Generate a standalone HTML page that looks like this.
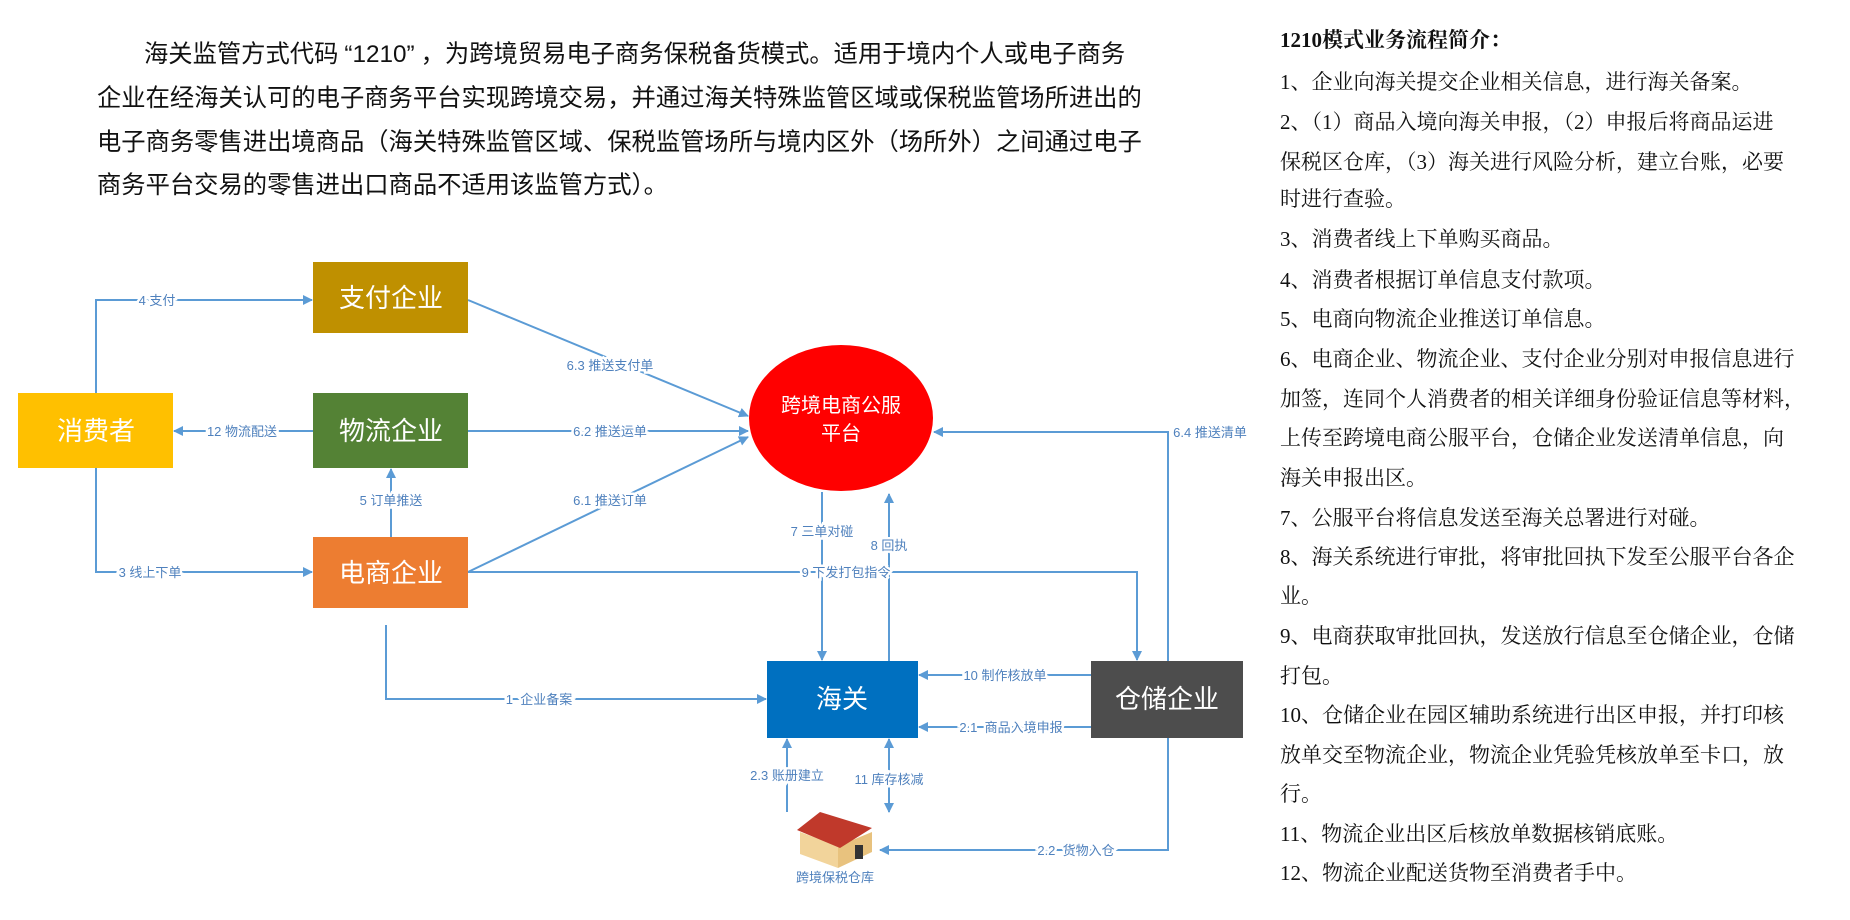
<!DOCTYPE html>
<html><head><meta charset="utf-8"><style>
body{margin:0;width:1850px;height:920px;background:#fff;position:relative;overflow:hidden}
.p{position:absolute;left:97px;font-family:"Liberation Sans","Noto Sans CJK SC",sans-serif;font-size:24.3px;color:#111;white-space:nowrap;line-height:44px}
.r{position:absolute;left:1280px;font-family:"Liberation Serif","Noto Serif CJK SC",serif;font-size:21px;color:#111;white-space:nowrap}
</style></head><body>
<div class="p" style="top:33px"><span style="padding-left:47px"></span>海关监管方式代码<span style="padding:0 6px">“1210”</span>，为跨境贸易电子商务保税备货模式。适用于境内个人或电子商务</div>
<div class="p" style="top:77px">企业在经海关认可的电子商务平台实现跨境交易，并通过海关特殊监管区域或保税监管场所进出的</div>
<div class="p" style="top:121px">电子商务零售进出境商品（海关特殊监管区域、保税监管场所与境内区外（场所外）之间通过电子</div>
<div class="p" style="top:164px">商务平台交易的零售进出口商品不适用该监管方式）。</div>
<div class="r" style="top:24px;font-weight:bold">1210模式业务流程简介：</div>
<div class="r" style="top:66px">1、企业向海关提交企业相关信息，进行海关备案。</div>
<div class="r" style="top:106px">2、（1）商品入境向海关申报，（2）申报后将商品运进</div>
<div class="r" style="top:146px">保税区仓库，（3）海关进行风险分析，建立台账，必要</div>
<div class="r" style="top:183px">时进行查验。</div>
<div class="r" style="top:223px">3、消费者线上下单购买商品。</div>
<div class="r" style="top:264px">4、消费者根据订单信息支付款项。</div>
<div class="r" style="top:303px">5、电商向物流企业推送订单信息。</div>
<div class="r" style="top:343px">6、电商企业、物流企业、支付企业分别对申报信息进行</div>
<div class="r" style="top:383px">加签，连同个人消费者的相关详细身份验证信息等材料，</div>
<div class="r" style="top:422px">上传至跨境电商公服平台，仓储企业发送清单信息，向</div>
<div class="r" style="top:462px">海关申报出区。</div>
<div class="r" style="top:502px">7、公服平台将信息发送至海关总署进行对碰。</div>
<div class="r" style="top:541px">8、海关系统进行审批，将审批回执下发至公服平台各企</div>
<div class="r" style="top:580px">业。</div>
<div class="r" style="top:620px">9、电商获取审批回执，发送放行信息至仓储企业，仓储</div>
<div class="r" style="top:660px">打包。</div>
<div class="r" style="top:699px">10、仓储企业在园区辅助系统进行出区申报，并打印核</div>
<div class="r" style="top:739px">放单交至物流企业，物流企业凭验凭核放单至卡口，放</div>
<div class="r" style="top:778px">行。</div>
<div class="r" style="top:818px">11、物流企业出区后核放单数据核销底账。</div>
<div class="r" style="top:857px">12、物流企业配送货物至消费者手中。</div>

<svg width="1850" height="920" style="position:absolute;left:0;top:0" font-family="Liberation Sans,Noto Sans CJK SC,sans-serif">
<defs><marker id="a" markerWidth="10" markerHeight="10" refX="9" refY="5" orient="auto" markerUnits="userSpaceOnUse"><path d="M0,0L10,5L0,10z" fill="#5B9BD5"/></marker>
<marker id="b" markerWidth="10" markerHeight="10" refX="1" refY="5" orient="auto" markerUnits="userSpaceOnUse"><path d="M10,0L0,5L10,10z" fill="#5B9BD5"/></marker></defs>
<g stroke="#5B9BD5" stroke-width="2" fill="none" marker-end="url(#a)">
<polyline points="96,393 96,300 312,300"/>
<polyline points="96,468 96,572 312,572"/>
<polyline points="313,431 174,431"/>
<polyline points="391,537 391,469"/>
<polyline points="468,300 748,416"/>
<polyline points="468,431 748,431"/>
<polyline points="468,572 748,437"/>
<polyline points="386,625 386,699 766,699"/>
<polyline points="822,492 822,660"/>
<polyline points="889,661 889,494"/>
<polyline points="468,572 1137,572 1137,660"/>
<polyline points="1168,661 1168,432 934,432"/>
<polyline points="1091,675 919,675"/>
<polyline points="1091,727 919,727"/>
<polyline points="1168,738 1168,850 880,850"/>
<polyline points="787,812 787,739"/>
<polyline points="889,812 889,739" marker-start="url(#b)"/>
</g>
<rect x="18" y="393" width="155" height="75" fill="#FFC000"/>
<rect x="313" y="262" width="155" height="71" fill="#BF9000"/>
<rect x="313" y="393" width="155" height="75" fill="#548235"/>
<rect x="313" y="537" width="155" height="71" fill="#ED7D31"/>
<rect x="767" y="661" width="151" height="77" fill="#0070C0"/>
<rect x="1091" y="661" width="152" height="77" fill="#4D4D4D"/>
<ellipse cx="841" cy="418" rx="92" ry="73" fill="#FF0000"/>
<g fill="#fff" font-size="26" text-anchor="middle">
<text x="96" y="440">消费者</text>
<text x="391" y="307">支付企业</text>
<text x="391" y="440">物流企业</text>
<text x="391" y="582">电商企业</text>
<text x="842" y="708">海关</text>
<text x="1167" y="708">仓储企业</text>
<text x="841" y="412" font-size="20">跨境电商公服</text>
<text x="841" y="440" font-size="20">平台</text>
</g>
<g fill="#4F81BD" font-size="13" text-anchor="middle" stroke="#fff" stroke-width="5" paint-order="stroke">
<text x="157" y="305">4 支付</text>
<text x="150" y="577">3 线上下单</text>
<text x="242" y="436">12 物流配送</text>
<text x="391" y="505">5 订单推送</text>
<text x="610" y="370">6.3 推送支付单</text>
<text x="610" y="436">6.2 推送运单</text>
<text x="610" y="505">6.1 推送订单</text>
<text x="539" y="704">1&#160;&#160;企业备案</text>
<text x="822" y="536">7 三单对碰</text>
<text x="889" y="550">8 回执</text>
<text x="846" y="577">9 下发打包指令</text>
<text x="1210" y="437">6.4 推送清单</text>
<text x="1005" y="680">10 制作核放单</text>
<text x="1011" y="732">2.1&#160;&#160;商品入境申报</text>
<text x="1076" y="855">2.2&#160;&#160;货物入仓</text>
<text x="787" y="780">2.3 账册建立</text>
<text x="889" y="784">11 库存核减</text>
<text x="835" y="882" stroke-width="0">跨境保税仓库</text>
</g>
<g>
<polygon points="800,832 838,846 838,868 800,854" fill="#F2D49B"/>
<polygon points="838,846 872,832 872,852 838,868" fill="#E8C27E"/>
<polygon points="797,830 820,812 872,828 840,848" fill="#C0392B"/>
<rect x="855" y="845" width="8" height="14" fill="#333"/>
</g>
</svg>
</body></html>
